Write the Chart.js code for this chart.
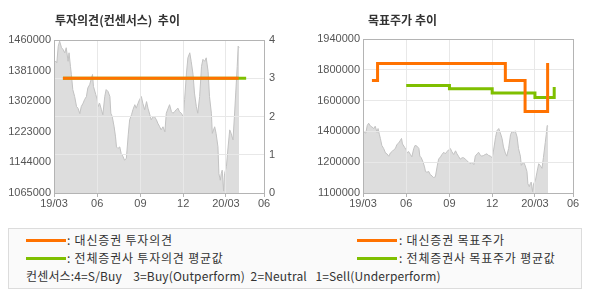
<!DOCTYPE html>
<html><head><meta charset="utf-8">
<script src="https://cdn.jsdelivr.net/npm/chart.js@4.4.0/dist/chart.umd.min.js"></script>
<style>
html,body{margin:0;padding:0;background:#fff;}
#wrap{position:relative;width:590px;height:300px;overflow:hidden;font-family:"Noto Sans CJK KR",sans-serif;}
canvas{position:absolute;top:0;}
.title{position:absolute;top:12px;font-size:12px;font-weight:bold;color:#333;white-space:pre;line-height:16px;}
#legend{position:absolute;left:8px;top:228px;width:572px;height:59px;border:1px solid #dcdcdc;background:#fafafa;}
.item{position:absolute;font-size:12px;color:#333;white-space:pre;line-height:14px;letter-spacing:0.8px;}
.item.small{letter-spacing:0.15px;}
.sw{position:absolute;height:3px;width:40px;}
</style></head>
<body>
<div id="wrap">
  <canvas id="c1" width="295" height="215" style="left:0"></canvas>
  <canvas id="c2" width="295" height="215" style="left:295px"></canvas>
  <div class="title" style="left:55px">투자의견(컨센서스)  추이</div>
  <div class="title" style="left:368px">목표주가 추이</div>
  <div id="legend">
    <div class="sw" style="left:17px;top:10px;background:#ff7200"></div>
    <div class="item" style="left:58px;top:4px">: 대신증권 투자의견</div>
    <div class="sw" style="left:17px;top:28px;background:#7fbf00"></div>
    <div class="item" style="left:58px;top:22px">: 전체증권사 투자의견 평균값</div>
    <div class="sw" style="left:348px;top:10px;background:#ff7200"></div>
    <div class="item" style="left:390px;top:4px">: 대신증권 목표주가</div>
    <div class="sw" style="left:348px;top:28px;background:#7fbf00"></div>
    <div class="item" style="left:390px;top:22px">: 전체증권사 목표주가 평균값</div>
    <div class="item small" style="left:17px;top:40px">컨센서스:4=S/Buy    3=Buy(Outperform)  2=Neutral   1=Sell(Underperform)</div>
  </div>
</div>
<script>
// ---- data (x = days since 2019-03-01) ----
const xTickDays = [0, 92, 184, 275, 366, 447];
const xTickLabels = ['19/03', '06', '09', '12', '20/03', '06'];

const priceDay = [0,4,6,9,12,16,19,23,26,30,32,35,37,40,44,48,51,55,58,62,65,69,72,76,79,82,84,89,92,94,97,101,104,108,111,115,119,121,124,128,131,133,136,140,143,147,150,154,158,161,165,168,172,175,179,182,186,189,193,197,200,204,207,211,214,218,221,225,228,232,236,239,243,246,250,253,257,260,264,267,271,275,278,282,285,289,292,296,299,303,306,310,314,317,321,324,328,331,335,337,342,345,349,351,354,356,358,361,363,367,370,374,377,381,384,388,390,392,394];
const priceValue = [1403000,1405000,1401000,1444000,1457000,1440000,1436000,1427000,1440000,1405000,1427000,1392000,1371000,1332000,1314000,1288000,1284000,1270000,1288000,1297000,1306000,1314000,1336000,1345000,1358000,1371000,1340000,1319000,1306000,1288000,1297000,1280000,1267000,1314000,1332000,1327000,1314000,1271000,1262000,1236000,1210000,1184000,1180000,1184000,1167000,1159000,1150000,1154000,1215000,1254000,1267000,1280000,1293000,1284000,1297000,1306000,1314000,1297000,1280000,1301000,1284000,1267000,1254000,1262000,1262000,1254000,1245000,1236000,1228000,1236000,1223000,1271000,1284000,1293000,1275000,1271000,1275000,1280000,1284000,1275000,1271000,1262000,1306000,1375000,1414000,1427000,1405000,1371000,1323000,1288000,1271000,1314000,1392000,1410000,1405000,1414000,1379000,1314000,1271000,1219000,1236000,1219000,1184000,1115000,1098000,1115000,1124000,1070000,1115000,1133000,1176000,1228000,1219000,1202000,1262000,1349000,1392000,1444000,1440000];

const priceTickLabels = ['1065000', '1144000', '1223000', '1302000', '1381000', '1460000'];
const opinionTickLabels = ['0', '1', '2', '3', '4'];

const daishinOpinionDay = [19, 393];
const daishinOpinion = [3, 3];
const consensusOpinionDay = [19, 409];
const consensusOpinion = [3, 3];

const targetTickLabels = ['1100000', '1200000', '1400000', '1600000', '1800000', '1940000'];
const targetRange = [1100000, 1940000];
const daishinTargetDay = [19, 31, 303, 345, 393];
const daishinTarget = [1714000, 1807000, 1714000, 1544000, 1809000];
const consensusTargetDay = [92, 184, 275, 366, 407];
const consensusTarget = [1686000, 1668000, 1645000, 1621000, 1678000];
const pricePanelRange = [1062500, 1933000];

// ---- styles ----
const ORANGE = '#ff7200', GREEN = '#7fbf00';
const GRID = '#e8e8e8', AXIS = '#b4b4b4', LABEL = '#555';
Chart.defaults.font.family = '"Liberation Sans", Arial, sans-serif';
Chart.defaults.font.size = 11;
Chart.defaults.color = LABEL;

const pts = (xs, ys) => xs.map((x, i) => ({x, y: ys[i]}));

const frame = {
  id: 'frame',
  afterDatasetDraw(chart, args) {
    const ds = chart.data.datasets[args.index];
    if (ds.gridOver) ds.gridOver.forEach(id => chart.scales[id].drawGrid(chart.chartArea));
  },
  afterDatasetsDraw(chart) {
    const {ctx, chartArea: a} = chart;
    ctx.save();
    ctx.strokeStyle = AXIS; ctx.lineWidth = 1;
    ctx.strokeRect(Math.round(a.left) + 0.5, Math.round(a.top) + 0.5,
      Math.round(a.right - a.left), Math.round(a.bottom - a.top));
    ctx.restore();
  }
};

function xAxis() {
  return {
    type: 'linear', min: xTickDays[0], max: xTickDays[xTickDays.length - 1],
    afterBuildTicks: a => { a.ticks = xTickDays.map(v => ({value: v})); },
    afterFit: a => { a.height = 22; },
    ticks: {autoSkip: false, maxRotation: 0, padding: 0, callback: (v, i) => xTickLabels[i]},
    grid: {color: GRID, drawTicks: true, tickLength: 4, tickColor: AXIS},
    border: {display: false}
  };
}

function priceDataset(axisId, gridOver) {
  return {
    data: pts(priceDay, priceValue), yAxisID: axisId, order: 3,
    borderColor: '#c2c2c2', borderWidth: 1, backgroundColor: '#dddddd',
    fill: 'start', pointRadius: 0, tension: 0, gridOver
  };
}

function stepLine(xs, ys, color, axisId, order) {
  return {
    data: pts(xs, ys), yAxisID: axisId, order,
    borderColor: color, borderWidth: 3, pointRadius: 0, stepped: 'before',
    fill: false, borderCapStyle: 'butt', borderJoinStyle: 'miter'
  };
}

// ---- left chart: opinion ----
new Chart(document.getElementById('c1'), {
  type: 'line',
  data: {datasets: [
    priceDataset('y', ['x', 'y1']),
    stepLine(consensusOpinionDay, consensusOpinion, GREEN, 'y1', 2),
    stepLine(daishinOpinionDay, daishinOpinion, ORANGE, 'y1', 1)
  ]},
  options: {
    responsive: false, animation: false, devicePixelRatio: 1,
    layout: {padding: {top: 40, left: 0, right: 0, bottom: 0}},
    plugins: {legend: {display: false}, tooltip: {enabled: false}},
    scales: {
      x: xAxis(),
      y: {
        type: 'linear', position: 'left',
        min: +priceTickLabels[0], max: +priceTickLabels[priceTickLabels.length - 1],
        afterBuildTicks: a => { a.ticks = priceTickLabels.map(v => ({value: +v})); },
        afterFit: a => { a.width = 54; },
        ticks: {padding: 3, callback: (v, i) => priceTickLabels[i]},
        grid: {display: false, drawTicks: false},
        border: {display: false}
      },
      y1: {
        type: 'linear', position: 'right', min: 0, max: 4,
        afterBuildTicks: a => { a.ticks = opinionTickLabels.map(v => ({value: +v})); },
        afterFit: a => { a.width = 31; },
        ticks: {padding: 5, callback: (v, i) => opinionTickLabels[i]},
        grid: {color: GRID, drawTicks: false},
        border: {display: false}
      }
    }
  },
  plugins: [frame]
});

// ---- right chart: target price ----
new Chart(document.getElementById('c2'), {
  type: 'line',
  data: {datasets: [
    priceDataset('yp', ['x', 'y']),
    stepLine(consensusTargetDay, consensusTarget, GREEN, 'y', 2),
    stepLine(daishinTargetDay, daishinTarget, ORANGE, 'y', 1)
  ]},
  options: {
    responsive: false, animation: false, devicePixelRatio: 1,
    layout: {padding: {top: 39, left: 0, right: 17, bottom: 0}},
    plugins: {legend: {display: false}, tooltip: {enabled: false}},
    scales: {
      x: xAxis(),
      y: {
        type: 'linear', position: 'left', min: targetRange[0], max: targetRange[1],
        afterBuildTicks: a => {
          const n = targetTickLabels.length;
          a.ticks = targetTickLabels.map((l, i) => ({value: targetRange[0] + i * (targetRange[1] - targetRange[0]) / (n - 1)}));
        },
        afterFit: a => { a.width = 68; },
        ticks: {padding: 3, callback: (v, i) => targetTickLabels[i]},
        grid: {color: GRID, drawTicks: false},
        border: {display: false}
      },
      yp: {
        type: 'linear', display: false, min: pricePanelRange[0], max: pricePanelRange[1]
      }
    }
  },
  plugins: [frame]
});
</script>
</body></html>
